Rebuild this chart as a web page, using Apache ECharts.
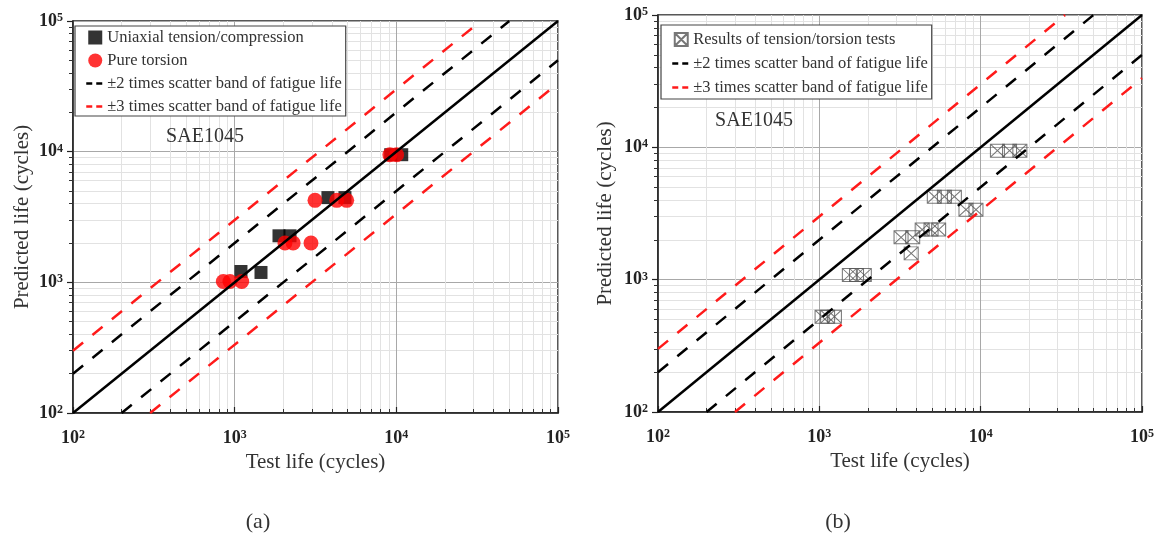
<!DOCTYPE html>
<html>
<head>
<meta charset="utf-8">
<script src="https://cdn.jsdelivr.net/npm/echarts@6/dist/echarts.min.js"></script>
<style>
  html, body { margin: 0; padding: 0; background: #fff; }
  #chart { width: 1166px; height: 544px; }
</style>
</head>
<body>
<div id="chart"></div>
<script>
// (a) uniaxial tension/compression and pure torsion
const uniaxialTest = [1094, 1455, 1880, 2200, 3775, 4810, 9230, 10800];
const uniaxialPred = [1210, 1190, 2270, 2270, 4450, 4450, 9480, 9480];
const torsionTest = [851, 935, 1105, 2046, 2300, 2965, 3140, 4280, 4930, 9120, 10040];
const torsionPred = [1015, 1015, 1015, 2000, 2000, 2000, 4240, 4240, 4240, 9480, 9480];
// (b) combined tension/torsion
const combinedTest = [1040, 1125, 1240, 1535, 1700, 1900, 3210, 3790, 3710, 4340, 4925, 5490,
  5160, 5960, 6870, 8110, 9350, 12700, 15100, 17500];
const combinedPred = [525, 525, 525, 1085, 1085, 1085, 2090, 2090, 1580, 2390, 2390, 2390,
  4240, 4240, 4240, 3380, 3380, 9440, 9440, 9440];
// reference lines (test life, predicted life)
const perfectLine = [[100, 100], [100000, 100000]];
const upper2Line = [[100, 200], [50000, 100000]];
const lower2Line = [[200, 100], [100000, 50000]];
const upper3Line = [[100, 300], [33333, 100000]];
const lower3Line = [[300, 100], [100000, 33333]];
// axis range and minor grid positions (2..9 per decade)
const axisMin = 100;
const axisMax = 100000;
const decades = [100, 1000, 10000];
const minorSteps = [2, 3, 4, 5, 6, 7, 8, 9];

const minorLog = [];
decades.forEach(function (d) {
  minorSteps.forEach(function (m) { minorLog.push(Math.log10(d * m)); });
});

const zip = (a, b) => a.map((v, i) => [v, b[i]]);

const serif = "Liberation Serif";
const band2Name = "\u00b12 times scatter band of fatigue life";
const band3Name = "\u00b13 times scatter band of fatigue life";
const boxSymbol = "path://M0,0L10,0L10,10L0,10Z M0,0L10,10 M10,0L0,10";
// legend icons padded to the 18x14 icon box
const squareIcon = "path://M0,7L0.01,7 M18,7L17.99,7 M2,0H16V14H2Z";
const boxIcon = "path://M0,7L0.01,7 M18,7L17.99,7 M2.5,0.5H15.5V13.5H2.5Z M2.5,0.5L15.5,13.5 M15.5,0.5L2.5,13.5";

const labelRich = {
  b: { fontFamily: serif, fontSize: 18, fontWeight: "bold", color: "#222" },
  s: { fontFamily: serif, fontSize: 12, fontWeight: "bold", color: "#222", verticalAlign: "top", lineHeight: 12 },
};
function powerLabel(v) {
  return "{b|10}{s|" + Math.round(Math.log10(v)) + "}";
}

function mainX(gi, nameGap) {
  return {
    type: "log", gridIndex: gi, min: axisMin, max: axisMax, logBase: 10,
    name: "Test life (cycles)", nameLocation: "middle", nameGap: nameGap,
    nameTextStyle: { fontFamily: serif, fontSize: 21, color: "#333" },
    axisLine: { lineStyle: { color: "#222", width: 1.5 } },
    axisTick: { inside: true, length: 6, lineStyle: { color: "#222", width: 1.2 } },
    axisLabel: { formatter: powerLabel, rich: labelRich, margin: 16 },
    splitLine: { show: true, lineStyle: { color: "#a8a8a8", width: 1 } },
  };
}
function minorX(gi) {
  return {
    type: "value", gridIndex: gi, min: 2, max: 5, position: "bottom",
    axisLine: { show: false },
    axisLabel: { show: false },
    axisTick: { show: true, inside: true, length: 4, customValues: minorLog, lineStyle: { color: "#333" } },
    splitLine: { show: true, lineStyle: { color: "#e2e2e2", width: 1 } },
  };
}
function mainY(gi, nameGap) {
  return {
    type: "log", gridIndex: gi, min: axisMin, max: axisMax, logBase: 10,
    name: "Predicted life (cycles)", nameLocation: "middle", nameGap: nameGap,
    nameTextStyle: { fontFamily: serif, fontSize: 21, color: "#333" },
    axisLine: { lineStyle: { color: "#222", width: 1.5 } },
    axisTick: { inside: false, length: 6, lineStyle: { color: "#222", width: 1.2 } },
    axisLabel: { formatter: powerLabel, rich: labelRich, margin: 10 },
    splitLine: { show: true, lineStyle: { color: "#a8a8a8", width: 1 } },
  };
}
function minorY(gi) {
  return {
    type: "value", gridIndex: gi, min: 2, max: 5, position: "left",
    axisLine: { show: false },
    axisLabel: { show: false },
    axisTick: { show: true, inside: false, length: 4, customValues: minorLog, lineStyle: { color: "#333" } },
    splitLine: { show: true, lineStyle: { color: "#e2e2e2", width: 1 } },
  };
}

function bandSeries(name, data, color, idx, dashed) {
  return {
    name: name, type: "line", data: data, xAxisIndex: idx, yAxisIndex: idx,
    symbol: "none", z: 5, animation: false,
    itemStyle: { color: color },
    lineStyle: { color: color, width: 2.5, type: dashed ? [13, 12] : "solid" },
  };
}
function bandLegend(name) {
  return { name: name, lineStyle: { type: [6, 4], width: 2.5 }, itemStyle: { opacity: 0 } };
}

const legendBase = {
  orient: "vertical", itemWidth: 18, itemHeight: 14, itemGap: 6,
  padding: [3, 4, 1, 10],
  backgroundColor: "#fff", borderColor: "#444", borderWidth: 1.2,
  textStyle: { fontFamily: serif, fontSize: 16.5, color: "#333", padding: [0, 0, 0, -2] },
};

function textMark(text, x, y, size) {
  return {
    type: "text", x: x, y: y, z: 10,
    style: { text: text, fontFamily: serif, fontSize: size, fill: "#333", align: "center", verticalAlign: "middle" },
  };
}

const option = {
  animation: false,
  graphic: [
    textMark("SAE1045", 205, 137, 20),
    textMark("SAE1045", 754, 121, 20),
    textMark("(a)", 258, 522, 22),
    textMark("(b)", 838, 522, 22),
  ],
  legend: [
    Object.assign({}, legendBase, {
      left: 75, top: 26,
      data: [
        { name: "Uniaxial tension/compression", icon: squareIcon },
        { name: "Pure torsion", icon: "circle" },
        bandLegend(band2Name),
        bandLegend(band3Name),
      ],
    }),
    Object.assign({}, legendBase, {
      left: 661, top: 25, itemGap: 7, padding: [6, 4, 3, 10],
      data: [
        { name: "Results of tension/torsion tests", icon: boxIcon },
        bandLegend(band2Name),
        bandLegend(band3Name),
      ],
    }),
  ],
  grid: [
    { left: 73, top: 21, width: 485, height: 392, show: true, borderColor: "#222", borderWidth: 1.5, backgroundColor: "transparent" },
    { left: 658, top: 15, width: 484, height: 397, show: true, borderColor: "#222", borderWidth: 1.5, backgroundColor: "transparent" },
  ],
  xAxis: [mainX(0, 36), mainX(1, 38), minorX(0), minorX(1)],
  yAxis: [mainY(0, 40), mainY(1, 42), minorY(0), minorY(1)],
  series: [
    {
      name: "Uniaxial tension/compression", type: "scatter", xAxisIndex: 0, yAxisIndex: 0,
      data: zip(uniaxialTest, uniaxialPred), symbol: "rect", symbolSize: 13, z: 3,
      itemStyle: { color: "#000" },
    },
    {
      name: "Pure torsion", type: "scatter", xAxisIndex: 0, yAxisIndex: 0,
      data: zip(torsionTest, torsionPred), symbol: "circle", symbolSize: 15, z: 4,
      itemStyle: { color: "#ff0000" },
    },
    bandSeries(band2Name, upper2Line, "#000", 0, true),
    bandSeries(band2Name, lower2Line, "#000", 0, true),
    bandSeries(band3Name, upper3Line, "#ff1a1a", 0, true),
    bandSeries(band3Name, lower3Line, "#ff1a1a", 0, true),
    bandSeries("perfect-a", perfectLine, "#000", 0, false),

    {
      name: "Results of tension/torsion tests", type: "scatter", xAxisIndex: 1, yAxisIndex: 1,
      data: zip(combinedTest, combinedPred), symbol: boxSymbol, symbolSize: [14, 13], z: 3,
      itemStyle: { color: "rgba(255,255,255,0)", borderColor: "#555", borderWidth: 1 },
    },
    bandSeries(band2Name, upper2Line, "#000", 1, true),
    bandSeries(band2Name, lower2Line, "#000", 1, true),
    bandSeries(band3Name, upper3Line, "#ff1a1a", 1, true),
    bandSeries(band3Name, lower3Line, "#ff1a1a", 1, true),
    bandSeries("perfect-b", perfectLine, "#000", 1, false),
  ],
};

const chart = echarts.init(document.getElementById("chart"));
chart.setOption(option);
</script>
</body>
</html>
